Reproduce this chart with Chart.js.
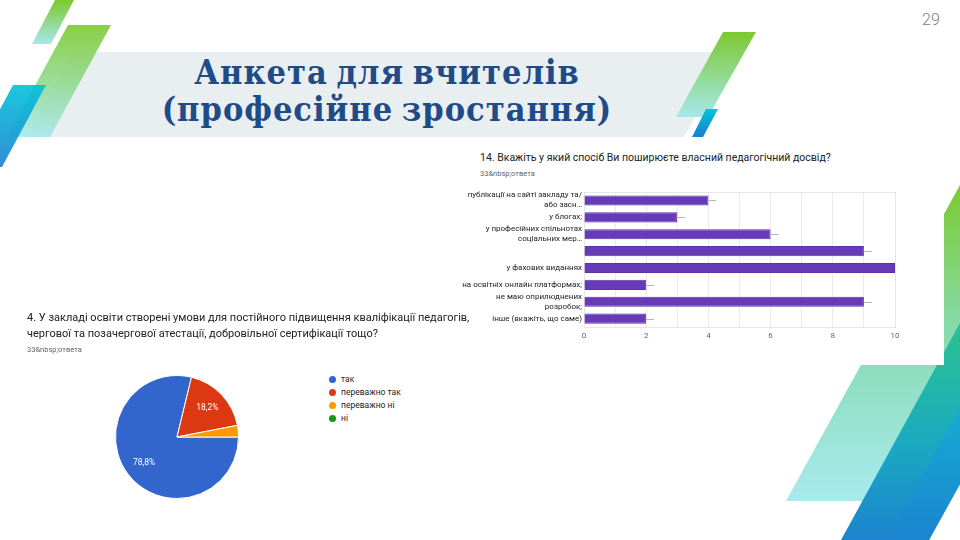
<!DOCTYPE html>
<html lang="uk">
<head>
<meta charset="utf-8">
<title>Анкета для вчителів</title>
<script src="https://cdn.jsdelivr.net/npm/chart.js@4.4.1/dist/chart.umd.min.js"></script>
<style>
  body { margin: 0; background: #fff; }
  #slide { position: relative; width: 960px; height: 540px; overflow: hidden; background: #fff; font-family: Roboto, Arial, sans-serif; }
  #deco { position: absolute; left: 0; top: 0; }
  #title { position: absolute; left: 0; top: 54px; width: 774px; text-align: center; font-family: "DejaVu Serif", serif; font-stretch: condensed; font-weight: bold; font-size: 34px; line-height: 37px; letter-spacing: 1px; word-spacing: -3px; color: #1f4b86; }
  #pageNum { position: absolute; left: 922px; top: 10px; font-size: 16px; font-weight: 300; color: #808080; }
  #panel { position: absolute; left: 458px; top: 140px; width: 486px; height: 225px; background: #fff; }
  .q { position: absolute; font-size: 10.5px; line-height: 16px; color: #202124; white-space: nowrap; }
  .cnt { position: absolute; font-size: 7.5px; line-height: 9px; color: #5f6368; white-space: nowrap; }
  .box { position: absolute; }
  .lg { position: absolute; left: 329px; font-size: 8.5px; line-height: 10px; color: #222; white-space: nowrap; }
  .lg span { display: inline-block; width: 7px; height: 7px; border-radius: 50%; margin-right: 5px; vertical-align: -1px; }
</style>
</head>
<body>
<div id="slide">
  <svg id="deco" width="960" height="540">
    <defs>
      <linearGradient id="gA" gradientUnits="userSpaceOnUse" x1="0" y1="0" x2="0" y2="44"><stop offset="0" stop-color="#7cc92f"/><stop offset="1" stop-color="#a6e8ec"/></linearGradient>
      <linearGradient id="gB" gradientUnits="userSpaceOnUse" x1="0" y1="25" x2="0" y2="137"><stop offset="0" stop-color="#7cc92f"/><stop offset="1" stop-color="#a6e8ec"/></linearGradient>
      <linearGradient id="gC" gradientUnits="userSpaceOnUse" x1="0" y1="85" x2="0" y2="167"><stop offset="0" stop-color="#00c2d9"/><stop offset="1" stop-color="#1a80d1"/></linearGradient>
      <linearGradient id="gD" gradientUnits="userSpaceOnUse" x1="0" y1="32" x2="0" y2="117"><stop offset="0" stop-color="#7cc92f"/><stop offset="1" stop-color="#a6e8ec"/></linearGradient>
      <linearGradient id="gE" gradientUnits="userSpaceOnUse" x1="0" y1="109" x2="0" y2="137"><stop offset="0" stop-color="#00c3d9"/><stop offset="1" stop-color="#1a7fd1"/></linearGradient>
      <linearGradient id="gF" gradientUnits="userSpaceOnUse" x1="0" y1="185" x2="0" y2="501"><stop offset="0" stop-color="#7cca30"/><stop offset="0.5" stop-color="#88dbb6"/><stop offset="1" stop-color="#a9eaed"/></linearGradient>
      <linearGradient id="gG" gradientUnits="userSpaceOnUse" x1="0" y1="323" x2="0" y2="540"><stop offset="0" stop-color="#2bc28f"/><stop offset="0.55" stop-color="#1aaabf"/><stop offset="1" stop-color="#1b84d0"/></linearGradient>
      <linearGradient id="gH" gradientUnits="userSpaceOnUse" x1="0" y1="408" x2="0" y2="540"><stop offset="0" stop-color="#15a9d8"/><stop offset="1" stop-color="#1b84d0"/></linearGradient>
    </defs>
    <polygon points="73,52 732,52 684,137 27,137" fill="#e9eef1"/>
    <polygon points="55,0 74,0 51,44 32,44" fill="url(#gA)"/>
    <polygon points="68,25 111,25 50,137 7,137" fill="url(#gB)" opacity="0.9"/>
    <polygon points="13,85 46,85 2,167 -31,167" fill="url(#gC)" opacity="0.9"/>
    <polygon points="723,32 756,32 708,117 676,117" fill="url(#gD)"/>
    <polygon points="706,109 718,109 703,137 692,137" fill="url(#gE)"/>
    <polygon points="960,185 960,406 908,501 786,501" fill="url(#gF)"/>
    <polygon points="960,323 960,484 929,540 841,540" fill="url(#gG)"/>
    <polygon points="960,408 960,484 929,540 886,540" fill="url(#gH)" opacity="0.8"/>
  </svg>

  <div id="title">Анкета для вчителів<br>(професійне зростання)</div>
  <div id="pageNum">29</div>

  <div id="panel"></div>
  <div class="q" style="left:480px; top:150px;">14. Вкажіть у який спосіб Ви поширюєте власний педагогічний досвід?</div>
  <div class="cnt" style="left:480px; top:169px;">33&amp;nbsp;ответа</div>
  <div class="box" style="left:460px; top:185px; width:455px; height:160px;"><canvas id="barChart"></canvas></div>

  <div class="q" style="left:27px; top:310px; font-size:11px;">4. У закладі освіти створені умови для постійного підвищення кваліфікації педагогів,<br>чергової та позачергової атестації, добровільної сертифікації тощо?</div>
  <div class="cnt" style="left:27px; top:345px;">33&amp;nbsp;ответа</div>
  <div class="box" style="left:115px; top:375px; width:124px; height:124px;"><canvas id="pieChart"></canvas></div>
  <div id="legend"></div>
</div>

<script>
// питання 14 — горизонтальні стовпчики
const barLabels = [
  ['публікації на сайті закладу та/', 'або засн…'],
  'у блогах;',
  ['у професійних спільнотах', 'соціальних мер…'],
  '',
  'у фахових виданнях',
  'на освітніх онлайн платформах;',
  ['не маю оприлюднених', 'розробок;'],
  'інше (вкажіть, що саме)'
];
const barValues = [4, 3, 6, 9, 10, 2, 9, 2];
const barTicks = [0, 2, 4, 6, 8, 10];

// питання 4 — кругова діаграма
const pieLabels = ['так', 'переважно так', 'переважно ні', 'ні'];
const pieValues = [26, 6, 1, 0];
const pieColors = ['#3366cc', '#dc3912', '#ff9900', '#109618'];

document.addEventListener("DOMContentLoaded", function () {
    Chart.defaults.font.family = 'Roboto';
    Chart.defaults.animation = false;

    // рамка області графіка
    const frame = {
        id: 'frame',
        beforeDatasetsDraw(chart) {
            const { ctx, chartArea: a } = chart;
            ctx.save();
            ctx.strokeStyle = '#e6e6e6';
            ctx.lineWidth = 1;
            ctx.strokeRect(Math.round(a.left) + 0.5, Math.round(a.top) + 0.5, Math.round(a.width), Math.round(a.height));
            ctx.restore();
        }
    };

    // короткі сірі риски після кінця стовпчика
    const stems = {
        id: 'stems',
        afterDatasetsDraw(chart) {
            const { ctx, chartArea: a } = chart;
            ctx.save();
            ctx.beginPath();
            ctx.rect(a.left, a.top, a.width, a.height);
            ctx.clip();
            ctx.strokeStyle = '#b5b5b5';
            ctx.lineWidth = 1;
            chart.getDatasetMeta(0).data.forEach(bar => {
                const y = Math.round(bar.y) + 0.5;
                ctx.beginPath();
                ctx.moveTo(bar.x, y);
                ctx.lineTo(bar.x + 8, y);
                ctx.stroke();
            });
            ctx.restore();
        }
    };

    new Chart(document.getElementById('barChart'), {
        type: 'bar',
        data: {
            labels: barLabels,
            datasets: [{
                data: barValues,
                backgroundColor: '#673ab7',
                borderColor: '#5b32a8',
                borderWidth: 1,
                barPercentage: 0.6,
                categoryPercentage: 1.0
            }]
        },
        options: {
            indexAxis: 'y',
            responsive: true,
            maintainAspectRatio: false,
            layout: { padding: { top: 7, right: 20, left: 0, bottom: 0 } },
            plugins: { legend: { display: false }, tooltip: { enabled: false } },
            scales: {
                x: {
                    min: 0,
                    max: 10,
                    grid: { color: '#ebebeb', drawTicks: false },
                    border: { display: false },
                    afterFit: s => { s.height = 18; },
                    ticks: {
                        stepSize: 1,
                        autoSkip: false,
                        maxRotation: 0,
                        padding: 4,
                        color: '#666',
                        font: { size: 8 },
                        callback: v => barTicks.includes(v) ? v : ''
                    }
                },
                y: {
                    grid: { display: false, drawTicks: false },
                    border: { display: false },
                    afterFit: s => { s.width = 124; },
                    ticks: { autoSkip: false, padding: 2, color: '#222', font: { size: 8, lineHeight: 1.25 } }
                }
            }
        },
        plugins: [frame, stems]
    });

    // підписи відсотків на секторах
    const sliceLabels = {
        id: 'sliceLabels',
        afterDatasetsDraw(chart) {
            const { ctx } = chart;
            const total = pieValues.reduce((a, b) => a + b, 0);
            ctx.save();
            ctx.fillStyle = '#fff';
            ctx.font = '8.5px Roboto';
            ctx.textAlign = 'center';
            ctx.textBaseline = 'middle';
            chart.getDatasetMeta(0).data.forEach((arc, i) => {
                const share = pieValues[i] / total;
                if (share < 0.05) return;
                const mid = (arc.startAngle + arc.endAngle) / 2;
                const r = arc.outerRadius * 0.68;
                ctx.fillText((share * 100).toFixed(1).replace('.', ',') + '%',
                    arc.x + Math.cos(mid) * r, arc.y + Math.sin(mid) * r);
            });
            ctx.restore();
        }
    };

    new Chart(document.getElementById('pieChart'), {
        type: 'pie',
        data: {
            labels: pieLabels,
            datasets: [{
                data: pieValues,
                backgroundColor: pieColors,
                borderColor: '#fff',
                borderWidth: 1
            }]
        },
        options: {
            responsive: true,
            maintainAspectRatio: false,
            rotation: 90,
            layout: { padding: 0 },
            plugins: { legend: { display: false }, tooltip: { enabled: false } }
        },
        plugins: [sliceLabels]
    });

    // легенда
    const legend = document.getElementById('legend');
    pieLabels.forEach((label, i) => {
        const item = document.createElement('div');
        item.className = 'lg';
        item.style.top = (374 + i * 13.1) + 'px';
        item.innerHTML = '<span style="background:' + pieColors[i] + '"></span>' + label;
        legend.appendChild(item);
    });
});
</script>
</body>
</html>
